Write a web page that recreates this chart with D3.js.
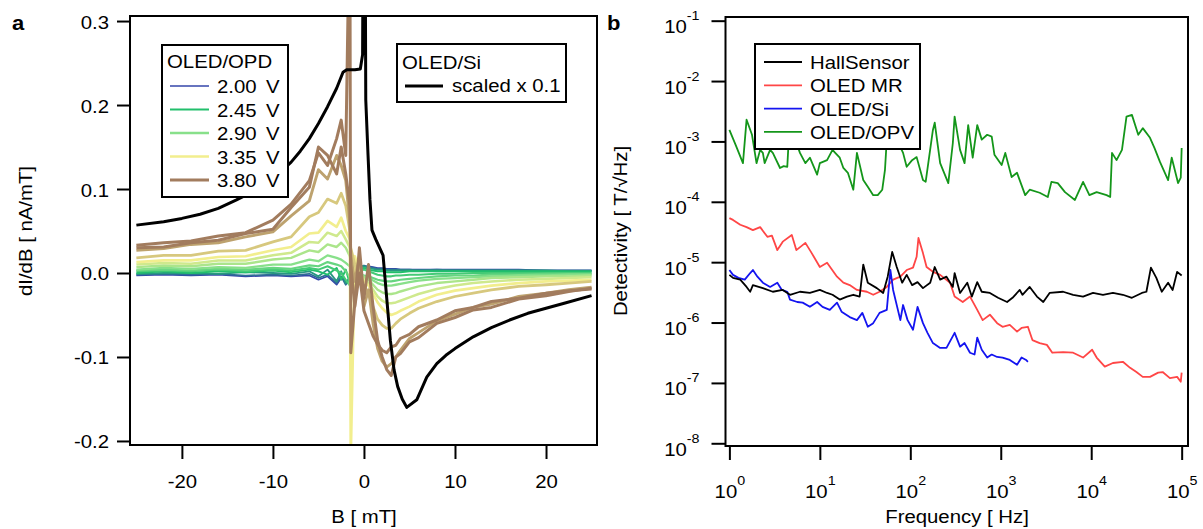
<!DOCTYPE html>
<html><head><meta charset="utf-8">
<script src="https://cdn.jsdelivr.net/npm/d3@7"></script>
<style>
body{margin:0;background:#fff;}
svg{display:block;font-family:"Liberation Sans",Arial,Helvetica,sans-serif;}
</style></head><body>
<svg id="c" width="1203" height="529"></svg>
<script>
// ---------------- Panel a data: dI/dB [nA/mT] vs B [mT] ----------------
const fieldB = [-25,-22,-19,-16,-13,-10,-8,-6,-5,-4,-3,-2.5,-2,-1.55,-1.45,-1,-0.5,0,0.5,1,1.5,2,2.5,3,3.5,4,5,6,8,10,12,14,17,20,22.5,25];
const voltages = [2.00,2.15,2.30,2.45,2.60,2.75,2.90,3.05,3.20,3.35,3.50,3.65,3.80,3.80];
const v200 = [-0.003,-0.002,-0.003,-0.002,-0.004,-0.003,-0.004,-0.003,-0.008,-0.004,-0.014,-0.006,-0.010,-0.012,-0.006,0.002,0.006,0.008,0.008,0.007,0.006,0.006,0.005,0.005,0.005,0.004,0.004,0.004,0.004,0.004,0.004,0.004,0.004,0.003,0.003,0.003];
const v215 = [-0.002,-0.001,-0.002,-0.001,-0.003,-0.002,-0.003,-0.001,-0.006,-0.002,-0.012,-0.004,-0.014,-0.008,-0.010,0.004,0.007,0.009,0.007,0.006,0.005,0.005,0.004,0.004,0.004,0.004,0.004,0.003,0.004,0.003,0.003,0.003,0.003,0.003,0.003,0.003];
const v230 = [-0.001,0.000,0.000,-0.001,0.001,0.000,-0.001,0.002,-0.004,0.004,-0.010,0.002,-0.012,-0.005,-0.018,0.006,0.008,0.008,0.006,0.005,0.004,0.004,0.003,0.003,0.003,0.003,0.003,0.003,0.003,0.003,0.003,0.003,0.003,0.003,0.002,0.002];
const v245 = [0.000,0.002,0.000,0.002,0.001,0.003,0.001,0.004,0.002,-0.002,0.006,-0.008,0.004,-0.012,-0.020,0.000,0.004,0.006,0.004,0.003,0.002,0.002,0.001,0.001,0.001,0.001,0.002,0.002,0.002,0.002,0.002,0.002,0.002,0.002,0.002,0.002];
const v260 = [0.002,0.003,0.002,0.004,0.002,0.004,0.003,0.006,0.004,0.008,0.003,0.000,-0.008,-0.015,-0.005,-0.002,0.002,0.004,0.002,0.000,-0.002,-0.003,-0.004,-0.004,-0.003,-0.003,-0.002,-0.002,-0.001,-0.001,0.000,0.000,0.000,0.000,0.000,0.000];
const v275 = [0.003,0.004,0.003,0.005,0.004,0.006,0.005,0.009,0.008,0.013,0.010,0.008,0.002,-0.005,-0.010,0.000,-0.002,-0.003,-0.004,-0.006,-0.008,-0.009,-0.010,-0.010,-0.009,-0.008,-0.007,-0.006,-0.004,-0.003,-0.003,-0.002,-0.002,-0.001,-0.001,-0.001];
const v290 = [0.004,0.006,0.005,0.007,0.006,0.010,0.010,0.016,0.014,0.021,0.018,0.016,0.012,0.008,0.005,0.002,-0.002,-0.004,-0.006,-0.009,-0.012,-0.014,-0.015,-0.015,-0.014,-0.013,-0.011,-0.009,-0.007,-0.006,-0.005,-0.004,-0.003,-0.003,-0.002,-0.002];
const v305 = [0.007,0.009,0.008,0.011,0.011,0.016,0.018,0.027,0.025,0.034,0.031,0.036,0.030,0.020,0.015,0.005,0.000,-0.005,-0.008,-0.014,-0.020,-0.023,-0.025,-0.025,-0.024,-0.022,-0.019,-0.016,-0.012,-0.010,-0.008,-0.006,-0.005,-0.004,-0.004,-0.003];
const v320 = [0.010,0.012,0.011,0.015,0.015,0.021,0.024,0.037,0.036,0.048,0.044,0.050,0.040,0.030,0.020,0.010,0.000,-0.008,-0.012,-0.020,-0.028,-0.033,-0.036,-0.036,-0.035,-0.033,-0.029,-0.025,-0.019,-0.015,-0.012,-0.010,-0.008,-0.007,-0.006,-0.005];
const v335 = [0.013,0.015,0.015,0.019,0.020,0.027,0.031,0.047,0.048,0.062,0.055,0.066,0.050,0.040,-0.220,0.020,0.000,-0.010,-0.015,-0.025,-0.035,-0.042,-0.047,-0.050,-0.048,-0.045,-0.040,-0.034,-0.026,-0.021,-0.018,-0.015,-0.012,-0.010,-0.009,-0.008];
const v350 = [0.018,0.021,0.021,0.026,0.027,0.037,0.043,0.067,0.072,0.088,0.083,0.095,0.080,0.050,0.030,0.010,-0.010,-0.015,-0.025,-0.040,-0.055,-0.062,-0.066,-0.066,-0.060,-0.055,-0.048,-0.042,-0.034,-0.028,-0.024,-0.020,-0.016,-0.014,-0.012,-0.010];
const v365 = [0.027,0.029,0.034,0.036,0.043,0.049,0.068,0.086,0.123,0.112,0.140,0.128,0.110,0.060,0.020,-0.010,0.020,-0.040,-0.020,-0.060,-0.090,-0.105,-0.112,-0.108,-0.100,-0.092,-0.078,-0.071,-0.057,-0.049,-0.041,-0.037,-0.028,-0.024,-0.020,-0.017];
const v380a = [0.033,0.036,0.038,0.044,0.048,0.063,0.082,0.110,0.143,0.128,0.160,0.182,0.140,0.450,-0.095,-0.035,0.030,-0.030,0.010,-0.040,-0.080,-0.100,-0.115,-0.122,-0.100,-0.096,-0.082,-0.077,-0.060,-0.053,-0.044,-0.041,-0.031,-0.027,-0.022,-0.018];
const v380b = [0.030,0.031,0.036,0.039,0.047,0.052,0.078,0.102,0.150,0.140,0.118,0.150,0.118,0.080,0.010,-0.040,0.000,-0.045,-0.060,-0.075,-0.085,-0.092,-0.095,-0.088,-0.086,-0.078,-0.073,-0.064,-0.056,-0.045,-0.041,-0.034,-0.030,-0.024,-0.021,-0.019];
const opdSeries = [v200,v215,v230,v245,v260,v275,v290,v305,v320,v335,v350,v365,v380b,v380a];
// OLED/Si reference curve (scaled x 0.1)
const siFieldB = [-25,-22,-20,-18,-16,-14,-12,-10,-8,-7,-6,-5,-4,-3,-2.3,-1.9,-1.0,-0.4,-0.15,-0.05,0.1,0.2,0.45,0.66,0.88,1.3,2.1,2.5,2.9,3.3,3.7,4.2,4.7,5.8,6.9,8,9,10,12,14,16,18,20,22,25];
const siScaled = [0.057,0.061,0.065,0.070,0.077,0.087,0.098,0.112,0.132,0.145,0.160,0.178,0.198,0.220,0.239,0.242,0.242,0.243,0.260,0.500,0.500,0.206,0.140,0.087,0.051,0.040,0.021,-0.030,-0.080,-0.115,-0.135,-0.150,-0.160,-0.151,-0.124,-0.108,-0.098,-0.090,-0.076,-0.065,-0.056,-0.048,-0.042,-0.036,-0.027];
const legendVolts = ["2.00","2.45","2.90","3.35","3.80"];
const aXTicks = [-20,-10,0,10,20];
const aYTicks = [-0.2,-0.1,0.0,0.1,0.2,0.3];

// ---------------- Panel b data: log10(frequency/Hz), log10(detectivity/(T/sqrt(Hz))) ----------------
const hallLogF = [0.00,0.04,0.12,0.19,0.23,0.26,0.37,0.48,0.59,0.67,0.78,0.89,1.00,1.08,1.14,1.22,1.30,1.37,1.44,1.48,1.53,1.63,1.70,1.75,1.80,1.85,1.91,1.96,2.02,2.08,2.14,2.22,2.27,2.33,2.40,2.47,2.49,2.55,2.63,2.68,2.74,2.79,2.88,2.97,3.07,3.13,3.21,3.24,3.32,3.40,3.47,3.54,3.69,3.80,3.91,4.02,4.13,4.24,4.35,4.45,4.56,4.61,4.66,4.72,4.78,4.85,4.90,4.95,5.00];
const hallLogD = [-5.21,-5.26,-5.29,-5.41,-5.49,-5.38,-5.43,-5.49,-5.46,-5.54,-5.49,-5.51,-5.46,-5.51,-5.54,-5.62,-5.57,-5.54,-5.57,-5.04,-5.34,-5.43,-5.51,-5.24,-4.83,-5.08,-5.34,-5.21,-5.38,-5.33,-5.43,-5.34,-5.08,-5.29,-5.24,-5.41,-5.18,-5.51,-5.34,-5.57,-5.33,-5.49,-5.51,-5.59,-5.66,-5.59,-5.46,-5.54,-5.41,-5.57,-5.66,-5.51,-5.49,-5.54,-5.57,-5.51,-5.54,-5.51,-5.54,-5.59,-5.51,-5.49,-5.09,-5.26,-5.49,-5.34,-5.46,-5.16,-5.22];
const mrLogF = [0.00,0.04,0.12,0.19,0.26,0.34,0.42,0.47,0.53,0.59,0.69,0.74,0.84,0.91,1.00,1.08,1.19,1.26,1.33,1.41,1.52,1.59,1.66,1.74,1.81,1.89,1.96,2.03,2.07,2.09,2.14,2.18,2.25,2.33,2.44,2.49,2.58,2.66,2.74,2.80,2.88,2.96,3.02,3.10,3.18,3.23,3.30,3.35,3.43,3.51,3.57,3.69,3.80,3.91,4.01,4.06,4.15,4.24,4.35,4.43,4.50,4.57,4.65,4.74,4.79,4.87,4.95,4.99,5.00];
const mrLogD = [-4.27,-4.30,-4.38,-4.42,-4.47,-4.42,-4.58,-4.56,-4.80,-4.66,-4.55,-4.80,-4.68,-4.85,-5.08,-5.01,-5.24,-5.34,-5.38,-5.46,-5.49,-5.54,-5.49,-5.41,-5.29,-5.24,-5.13,-5.09,-4.91,-4.60,-4.85,-5.08,-5.16,-5.21,-5.34,-5.57,-5.66,-5.57,-5.79,-5.96,-5.87,-6.01,-6.07,-6.04,-6.15,-6.09,-6.07,-6.29,-6.34,-6.37,-6.50,-6.49,-6.50,-6.58,-6.45,-6.58,-6.73,-6.67,-6.65,-6.75,-6.82,-6.90,-6.90,-6.83,-6.82,-6.92,-6.90,-6.98,-6.83];
const siLogF = [0.00,0.04,0.10,0.17,0.23,0.26,0.31,0.37,0.45,0.53,0.58,0.64,0.67,0.75,0.81,0.89,0.97,1.03,1.11,1.19,1.24,1.33,1.41,1.47,1.53,1.59,1.66,1.74,1.78,1.81,1.89,1.92,1.97,2.03,2.08,2.14,2.19,2.25,2.33,2.40,2.49,2.55,2.60,2.66,2.71,2.74,2.79,2.85,2.90,2.96,3.02,3.10,3.18,3.23,3.28,3.30];
const siLogD = [-5.13,-5.21,-5.26,-5.29,-5.18,-5.13,-5.24,-5.34,-5.41,-5.34,-5.46,-5.49,-5.62,-5.66,-5.67,-5.74,-5.66,-5.74,-5.79,-5.67,-5.82,-5.91,-5.96,-5.84,-6.07,-6.01,-5.84,-5.79,-5.13,-5.46,-5.96,-5.71,-5.96,-6.12,-5.74,-6.01,-6.17,-6.34,-6.42,-6.42,-6.17,-6.40,-6.34,-6.50,-6.53,-6.25,-6.45,-6.58,-6.53,-6.57,-6.58,-6.62,-6.70,-6.58,-6.62,-6.65];
const opvLogF = [0.00,0.07,0.15,0.19,0.25,0.30,0.34,0.37,0.39,0.45,0.48,0.56,0.60,0.64,0.65,0.71,0.78,0.84,0.89,0.97,1.00,1.08,1.14,1.17,1.22,1.26,1.31,1.37,1.41,1.48,1.53,1.59,1.64,1.69,1.72,1.74,1.80,1.88,1.92,1.96,2.02,2.07,2.14,2.17,2.25,2.27,2.33,2.42,2.47,2.49,2.55,2.60,2.64,2.69,2.74,2.79,2.85,2.90,2.93,3.01,3.05,3.12,3.18,3.27,3.32,3.43,3.52,3.56,3.63,3.71,3.82,3.91,3.98,4.06,4.17,4.21,4.23,4.28,4.34,4.39,4.45,4.52,4.57,4.65,4.70,4.76,4.85,4.89,4.96,4.99,5.00];
const opvLogD = [-2.81,-3.06,-3.36,-2.64,-2.89,-3.36,-3.14,-3.19,-3.36,-3.14,-3.19,-3.44,-3.41,-3.42,-3.14,-2.89,-3.19,-3.36,-3.27,-3.55,-3.36,-3.31,-3.14,-3.19,-3.27,-3.44,-3.52,-3.80,-3.19,-3.64,-3.75,-3.89,-3.89,-3.80,-3.47,-2.97,-2.81,-3.06,-3.19,-3.42,-3.31,-3.26,-3.64,-3.67,-2.81,-2.69,-3.36,-3.69,-3.03,-2.59,-3.14,-3.36,-2.73,-3.27,-2.73,-2.97,-2.89,-2.92,-3.22,-3.39,-3.19,-3.59,-3.52,-3.89,-3.80,-3.85,-3.92,-3.67,-3.69,-3.84,-3.97,-3.67,-3.89,-3.84,-3.89,-3.92,-3.19,-3.31,-3.14,-2.59,-2.56,-2.89,-2.78,-2.94,-3.11,-3.34,-3.64,-3.27,-3.69,-3.60,-3.11];
const bSeriesNames = ["HallSensor","OLED MR","OLED/Si","OLED/OPV"];
const bXTicks = [1,10,100,1000,10000,100000];
const bYTicks = [1e-8,1e-7,1e-6,1e-5,1e-4,1e-3,1e-2,1e-1];

// ---------------- drawing ----------------
const SX = 1.1, FS = 18.5;
const svg = d3.select("#c");
function T(sel, x, y, str, opt = {}) {
  const t = sel.append("text")
    .attr("transform", `translate(${x},${y})` + (opt.rot ? ` rotate(${opt.rot})` : "") + ` scale(${SX},1)`)
    .attr("font-size", opt.size || FS)
    .attr("text-anchor", opt.anchor || "start")
    .attr("fill", "#000");
  if (opt.bold) t.attr("font-weight", "bold");
  t.text(str);
  return t;
}
function styleAxis(g) {
  g.attr("font-family", null).attr("font-size", null);
  g.select(".domain").remove();
  g.selectAll(".tick line").attr("stroke", "#000").attr("stroke-width", 2);
}

// ===== Panel a =====
const A = {l:130, t:16, r:597, b:445};
const xA = d3.scaleLinear().domain([-25.7, 25.6]).range([A.l, A.r]);
const yA = d3.scaleLinear().domain([-0.2048, 0.306]).range([A.b, A.t]);
const defs = svg.append("defs");
defs.append("clipPath").attr("id","clipA").append("rect").attr("x",A.l).attr("y",A.t).attr("width",A.r-A.l).attr("height",A.b-A.t);

const vColor = d3.scaleLinear().domain([2.00,2.45,2.90,3.35,3.80])
  .range(["#3446aa","#22bf6c","#88e08a","#f2ee8e","#a27c5e"]).interpolate(d3.interpolateRgb);
const vWidth = d3.scaleLinear().domain([2.0,3.8]).range([1.6,3]);
const lineA = d3.line().x(d => xA(d[0])).y(d => yA(d[1]));
const gA = svg.append("g").attr("clip-path","url(#clipA)");
opdSeries.forEach((vals, i) => {
  gA.append("path").datum(d3.zip(fieldB, vals)).attr("d", lineA)
    .attr("fill","none").attr("stroke", vColor(voltages[i])).attr("stroke-width", vWidth(voltages[i]))
    .attr("stroke-linejoin","round");
});
gA.append("path").datum(d3.zip(siFieldB, siScaled)).attr("d", lineA)
  .attr("fill","none").attr("stroke","#000").attr("stroke-width",3).attr("stroke-linejoin","round");

svg.append("rect").attr("x",A.l).attr("y",A.t).attr("width",A.r-A.l).attr("height",A.b-A.t)
  .attr("fill","none").attr("stroke","#000").attr("stroke-width",2);

const axAx = svg.append("g").attr("transform",`translate(0,${A.b})`)
  .call(d3.axisBottom(xA).tickValues(aXTicks).tickSize(14).tickFormat(d => String(d)));
styleAxis(axAx);
axAx.selectAll(".tick text").attr("y",null).attr("dy",null)
  .attr("transform",`translate(0,43) scale(${SX},1)`).attr("font-size",FS).attr("fill","#000");

const axAy = svg.append("g").attr("transform",`translate(${A.l},0)`)
  .call(d3.axisLeft(yA).tickValues(aYTicks).tickSize(13).tickFormat(d => d.toFixed(1)));
styleAxis(axAy);
axAy.selectAll(".tick text").attr("x",null).attr("dy",null)
  .attr("transform",`translate(-21,7) scale(${SX},1)`).attr("font-size",FS).attr("fill","#000");

T(svg, 364, 523, "B [ mT]", {anchor:"middle"});
T(svg, 32, 231, "dI/dB [ nA/mT]", {anchor:"middle", rot:-90});
T(svg, 12, 30, "a", {bold:true, size:20});

// legend OLED/OPD
const L1 = svg.append("g");
L1.append("rect").attr("x",162).attr("y",45).attr("width",126).attr("height",152)
  .attr("fill","#fff").attr("stroke","#000").attr("stroke-width",2);
T(L1, 167, 68, "OLED/OPD");
legendVolts.forEach((v, i) => {
  const cy = 86 + i*23.5;
  L1.append("line").attr("x1",170).attr("x2",209).attr("y1",cy).attr("y2",cy)
    .attr("stroke", vColor(+v)).attr("stroke-width", vWidth(+v));
  T(L1, 217, cy+7, v);
  T(L1, 266, cy+7, "V");
});
// legend OLED/Si
const L2 = svg.append("g");
L2.append("rect").attr("x",397).attr("y",44).attr("width",169).attr("height",58)
  .attr("fill","#fff").attr("stroke","#000").attr("stroke-width",2);
T(L2, 402, 69, "OLED/Si");
L2.append("line").attr("x1",405).attr("x2",443).attr("y1",86).attr("y2",86).attr("stroke","#000").attr("stroke-width",3);
T(L2, 452, 92, "scaled x 0.1");

// ===== Panel b =====
const Bp = {l:725.5, t:17, r:1188, b:446};
const xB = d3.scaleLog().domain([Math.pow(10,-0.043), Math.pow(10,5.07)]).range([Bp.l, Bp.r]);
const yB = d3.scaleLog().domain([Math.pow(10,-8.045), Math.pow(10,-0.939)]).range([Bp.b, Bp.t]);
defs.append("clipPath").attr("id","clipB").append("rect").attr("x",Bp.l).attr("y",Bp.t).attr("width",Bp.r-Bp.l).attr("height",Bp.b-Bp.t);
const lineB = d3.line().x(d => xB(Math.pow(10,d[0]))).y(d => yB(Math.pow(10,d[1])));
const bColors = ["#000000","#ff4646","#1414f0","#14961a"];
const bData = [d3.zip(hallLogF,hallLogD), d3.zip(mrLogF,mrLogD), d3.zip(siLogF,siLogD), d3.zip(opvLogF,opvLogD)];
const gB = svg.append("g").attr("clip-path","url(#clipB)");
[3,1,2,0].forEach(i => {
  gB.append("path").datum(bData[i]).attr("d", lineB).attr("fill","none")
    .attr("stroke", bColors[i]).attr("stroke-width",1.8).attr("stroke-linejoin","round");
});
svg.append("rect").attr("x",Bp.l).attr("y",Bp.t).attr("width",Bp.r-Bp.l).attr("height",Bp.b-Bp.t)
  .attr("fill","none").attr("stroke","#000").attr("stroke-width",2);

function supLabel(sel, d) {
  const t = d3.select(sel);
  t.text(null);
  t.append("tspan").text("10");
  t.append("tspan").attr("dy",-13).attr("font-size",13).text(String(Math.round(Math.log10(d))));
}
const axBx = svg.append("g").attr("transform",`translate(0,${Bp.b})`)
  .call(d3.axisBottom(xB).tickValues(bXTicks).tickSize(14));
styleAxis(axBx);
axBx.selectAll(".tick text").attr("y",null).attr("dy",null)
  .attr("transform",`translate(0,52) scale(${SX},1)`).attr("font-size",FS).attr("fill","#000")
  .each(function(d){ supLabel(this, d); });

const axBy = svg.append("g").attr("transform",`translate(${Bp.l},0)`)
  .call(d3.axisLeft(yB).tickValues(bYTicks).tickSize(14));
styleAxis(axBy);
axBy.selectAll(".tick text").attr("x",null).attr("dy",null)
  .attr("transform",`translate(-26,12) scale(${SX},1)`).attr("font-size",FS).attr("fill","#000")
  .each(function(d){ supLabel(this, d); });

T(svg, 957, 523, "Frequency [ Hz]", {anchor:"middle"});
T(svg, 627, 231, "Detectivity [ T/\u221AHz]", {anchor:"middle", rot:-90});
T(svg, 607, 30, "b", {bold:true, size:20});

const L3 = svg.append("g");
L3.append("rect").attr("x",755).attr("y",44).attr("width",165).attr("height",105)
  .attr("fill","#fff").attr("stroke","#000").attr("stroke-width",2);
bSeriesNames.forEach((n, i) => {
  const cy = 62 + i*23.3;
  L3.append("line").attr("x1",764).attr("x2",802).attr("y1",cy).attr("y2",cy)
    .attr("stroke", bColors[i]).attr("stroke-width",1.8);
  T(L3, 810, cy+7, n);
});
</script>
</body></html>
